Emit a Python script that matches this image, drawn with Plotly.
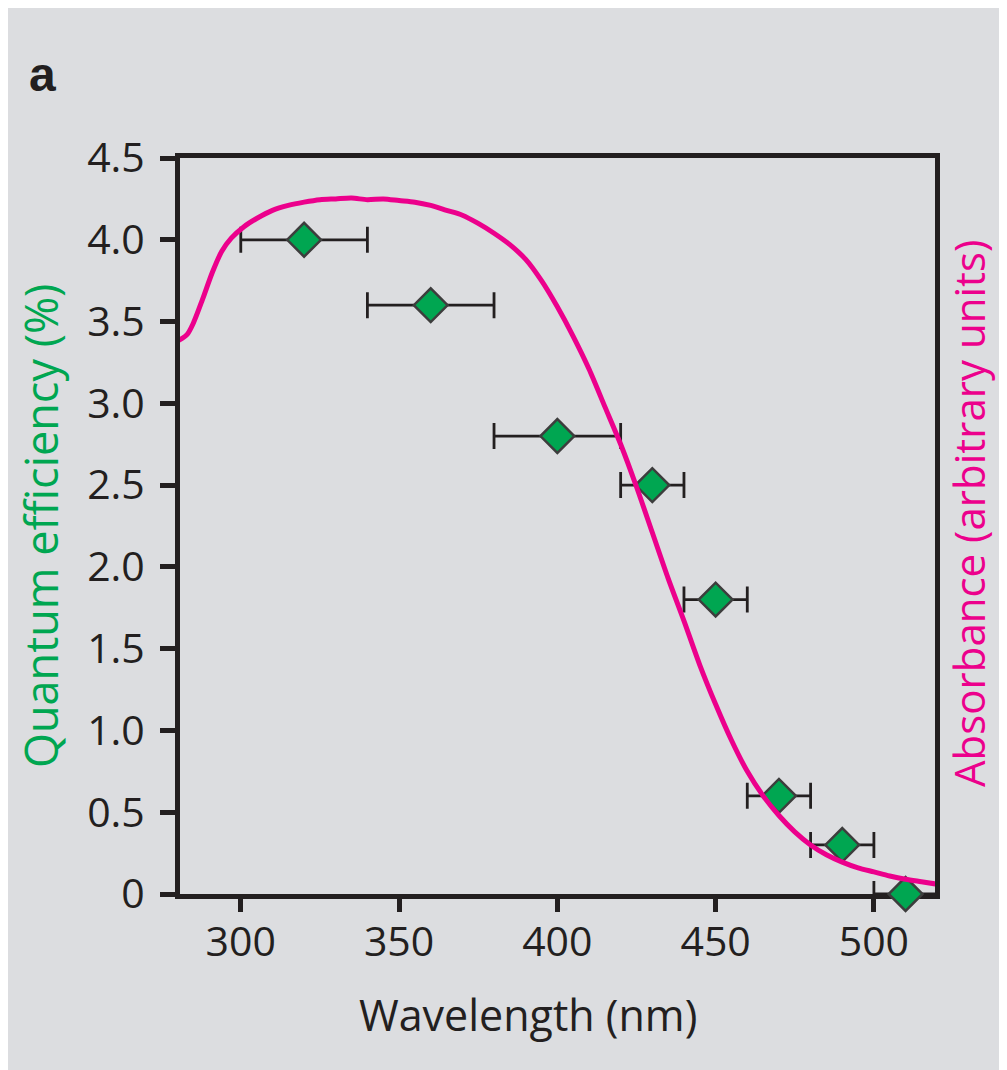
import plotly.graph_objects as go

# ---- data ----
qe_wavelength = [320, 360, 400, 430, 450, 470, 490, 510]
qe_value = [4.0, 3.6, 2.8, 2.5, 1.8, 0.6, 0.3, 0.0]
qe_xerr = [20, 20, 20, 10, 10, 10, 10, 10]

abs_wavelength = [280, 283, 285, 288, 291, 294, 297, 301, 305, 310, 315, 320, 325,
                  330, 335, 340, 345, 350, 355, 360, 365, 370, 375, 380, 385, 390,
                  395, 400, 405, 410, 415, 420, 425, 430, 435, 440, 445, 450, 455,
                  460, 465, 470, 475, 480, 485, 490, 495, 500, 505, 510, 515, 520]
abs_value = [3.38, 3.42, 3.49, 3.64, 3.80, 3.93, 4.01, 4.08, 4.13, 4.18, 4.21, 4.23, 4.245,
             4.25, 4.255, 4.245, 4.25, 4.24, 4.23, 4.21, 4.18, 4.15, 4.10, 4.04, 3.97, 3.88,
             3.75, 3.59, 3.41, 3.21, 2.98, 2.75, 2.49, 2.21, 1.93, 1.67, 1.40, 1.16, 0.94,
             0.75, 0.60, 0.48, 0.38, 0.30, 0.24, 0.195, 0.16, 0.135, 0.11, 0.09, 0.075, 0.06]

x_ticks = [300, 350, 400, 450, 500]
y_ticks = [0, 0.5, 1.0, 1.5, 2.0, 2.5, 3.0, 3.5, 4.0, 4.5]
y_tick_labels = ["0", "0.5", "1.0", "1.5", "2.0", "2.5", "3.0", "3.5", "4.0", "4.5"]

# ---- style / layout ----
OFF = 8                      # page body margin
W, H = 1007 - OFF, 1070 - OFF
L, R, T, B = 172, 72, 150, 176
PW, PH = W - L - R, H - T - B
GRAY = "#dcdde0"
INK = "#231f20"
GREEN = "#00a651"
PINK = "#ec008c"
FONT = "Open Sans"


def px_x(page_x):
    return (page_x - OFF - L) / PW


def px_y(page_y):
    return (H - B - (page_y - OFF)) / PH


fig = go.Figure()

fig.add_trace(go.Scatter(
    x=qe_wavelength, y=qe_value, mode="markers",
    marker=dict(symbol="diamond", size=26, color=GREEN,
                line=dict(color="#3d3d3d", width=2.5)),
    error_x=dict(type="data", array=qe_xerr, symmetric=True,
                 color=INK, thickness=2.8, width=13),
    cliponaxis=False, showlegend=False, hoverinfo="skip",
))

fig.add_trace(go.Scatter(
    x=abs_wavelength, y=abs_value, mode="lines",
    line=dict(color=PINK, width=5, shape="spline", smoothing=0.8),
    showlegend=False, hoverinfo="skip",
))

axis_common = dict(
    showline=True, linecolor=INK, linewidth=5, mirror=True,
    ticks="outside", tickcolor=INK, tickwidth=5,
    showgrid=False, zeroline=False,
    tickfont=dict(family=FONT, size=41, color=INK),
    layer="below traces",
)

fig.update_xaxes(range=[280.8, 519.3], tickvals=x_ticks,
                 ticktext=[str(v) for v in x_ticks], ticklen=13,
                 ticklabelstandoff=-5, **axis_common)
fig.update_yaxes(range=[0, 4.5], tickvals=y_ticks, ticktext=y_tick_labels,
                 ticklen=15, ticklabelstandoff=7, **axis_common)

fig.update_layout(
    width=W, height=H,
    margin=dict(l=L, r=R, t=T, b=B, pad=0),
    paper_bgcolor=GRAY, plot_bgcolor=GRAY,
    font=dict(family=FONT, color=INK),
    annotations=[
        dict(text="Wavelength (nm)", xref="paper", yref="paper",
             x=px_x(528), y=px_y(1014), xanchor="center", yanchor="middle",
             showarrow=False, font=dict(family=FONT, size=43, color=INK)),
        dict(text="Quantum efficiency (%)", xref="paper", yref="paper",
             x=px_x(40), y=px_y(526), xanchor="center", yanchor="middle",
             textangle=-90, showarrow=False,
             font=dict(family=FONT, size=45, color=GREEN)),
        dict(text="Absorbance (arbitrary units)", xref="paper", yref="paper",
             x=px_x(968), y=px_y(513), xanchor="center", yanchor="middle",
             textangle=-90, showarrow=False,
             font=dict(family=FONT, size=42, color=PINK)),
        dict(text="<b>a</b>", xref="paper", yref="paper",
             x=px_x(27), y=px_y(74), xanchor="left", yanchor="middle",
             showarrow=False,
             font=dict(family="Liberation Sans, Arial, DejaVu Sans, sans-serif",
                       size=48, color=INK)),
    ],
)

fig.write_html("out.html")
